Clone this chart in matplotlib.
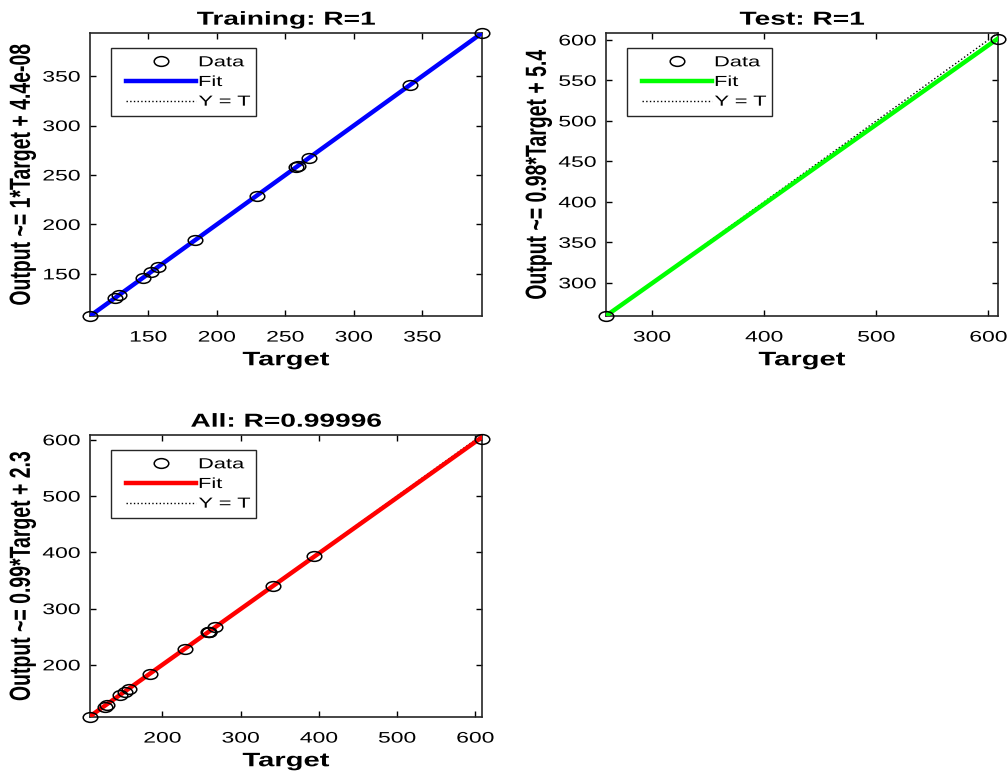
import matplotlib
matplotlib.use("Agg")
import matplotlib.pyplot as plt
import numpy as np
from matplotlib.patheffects import AbstractPathEffect
from matplotlib.transforms import Affine2D
from matplotlib.path import Path
from matplotlib.legend_handler import HandlerLine2D

plt.rcParams['font.family'] = ['Liberation Sans', 'DejaVu Sans']

# Training set: targets and network outputs
train_target = [107.4, 126.0, 128.6, 146.0, 152.0, 157.0, 184.0, 229.0, 258.0, 259.0, 267.0, 341.0, 393.6]
train_output = [107.4, 126.0, 128.6, 146.0, 152.0, 157.0, 184.0, 229.0, 258.0, 259.0, 267.0, 341.0, 393.6]
train_fit = (1.0, 4.4e-08)

# Test set
test_target = [259.0, 608.5]
test_output = [259.2, 601.7]
test_fit = (0.98, 5.4)

# All samples
all_target = train_target + test_target
all_output = train_output + test_output
all_fit = (0.99, 2.3)

panels = [
    ("Training: R=1", train_target, train_output, train_fit, "Output ~= 1*Target + 4.4e-08",
     (0, 0, 1), [150, 200, 250, 300, 350], [150, 200, 250, 300, 350]),
    ("Test: R=1", test_target, test_output, test_fit, "Output ~= 0.98*Target + 5.4",
     (0, 1, 0), [300, 400, 500, 600], [300, 350, 400, 450, 500, 550, 600]),
    ("All: R=0.99996", all_target, all_output, all_fit, "Output ~= 0.99*Target + 2.3",
     (1, 0, 0), [200, 300, 400, 500, 600], [200, 300, 400, 500, 600]),
]

SX = 1.5  # horizontal widening of glyphs


class Widen(AbstractPathEffect):
    """Draw text glyphs widened horizontally about a screen anchor."""

    def __init__(self, sx, anchor='center'):
        super().__init__()
        self.sx = sx
        self.anchor = anchor

    def draw_path(self, renderer, gc, tpath, affine, rgbFace=None):
        ext = tpath.get_extents(affine)
        if self.anchor == 'left':
            ax0 = ext.x0
        elif self.anchor == 'right':
            ax0 = ext.x1
        else:
            ax0 = 0.5 * (ext.x0 + ext.x1)
        tr = affine + Affine2D().translate(-ax0, 0).scale(self.sx, 1).translate(ax0, 0)
        renderer.draw_path(gc, tpath, tr, rgbFace)


# open ellipse marker (wider than tall)
_c = Path.unit_circle()
ellipse = Path(Affine2D().scale(1.0, 1.0 / SX).transform(_c.vertices), _c.codes)

W, H = 1007, 774
fig = plt.figure(figsize=(W / 100, H / 100), dpi=100)

# axes boxes in pixels: left, top, right, bottom
boxes = [(90, 33, 482, 316), (606, 33, 998, 316), (90, 435, 482, 717)]

for (title, t, y, fit, ylab, col, xt, yt), (l, tp, r, b) in zip(panels, boxes):
    aw, ah = r - l, b - tp
    ax = fig.add_axes([l / W, (H - b) / H, aw / W, ah / H])
    lo = min(min(t), min(y))
    hi = max(max(t), max(y))
    xs = np.array([lo, hi])
    ax.plot(xs, xs, linestyle=':', color='k', linewidth=1.0, label='Y = T', zorder=2)
    ax.plot(xs, fit[0] * xs + fit[1], color=col, linewidth=3.2, label='Fit', zorder=3)
    ax.plot(t, y, linestyle='none', marker=ellipse, markersize=10.5, markerfacecolor='none',
            markeredgecolor='k', markeredgewidth=1.1, label='Data', zorder=4, clip_on=False)
    ax.set_xlim(lo, hi)
    ax.set_ylim(lo, hi)
    ax.set_xticks(xt)
    ax.set_yticks(yt)
    ax.tick_params(direction='in', top=True, right=True, length=4, width=1,
                   labelsize=11, colors='k')
    ax.tick_params(axis='x', pad=10.5)
    ax.tick_params(axis='y', pad=7)
    for s in ax.spines.values():
        s.set_linewidth(1.2)
        s.set_color('#262626')

    ttl = ax.set_title(title, fontsize=13.5, fontweight='bold', pad=6)
    ttl.set_path_effects([Widen(SX, 'center')])
    xl = ax.set_xlabel('Target', fontsize=14, fontweight='bold', labelpad=5.5)
    xl.set_path_effects([Widen(SX, 'center')])
    yl = ax.set_ylabel(ylab, fontsize=14, fontweight='bold')
    yl.set_path_effects([Widen(SX, 'center')])
    ax.yaxis.set_label_coords(-67 / aw, 0.5)
    yl.set_verticalalignment('center')
    for lab in ax.get_xticklabels():
        lab.set_path_effects([Widen(SX, 'center')])
    for lab in ax.get_yticklabels():
        lab.set_path_effects([Widen(SX, 'right')])

    handles, labels = ax.get_legend_handles_labels()
    order = [2, 1, 0]
    fs = 10.5
    fs_px = fs * 100 / 72
    x0 = 21 / aw
    x1 = 166 / aw
    ytop = 1 - 15 / ah
    hx = HandlerLine2D(xpad=7.4 / fs_px)
    leg = ax.legend([handles[i] for i in order], [labels[i] for i in order],
                    loc='upper left', bbox_to_anchor=(x0, ytop - 0.3, x1 - x0, 0.3),
                    mode='expand', borderaxespad=0, fontsize=fs,
                    frameon=True, fancybox=False, edgecolor='#262626', framealpha=1,
                    handlelength=(70 + 7.4) / fs_px, borderpad=0.5, labelspacing=0.39,
                    handletextpad=0.2, numpoints=1,
                    handler_map={h: hx for h in handles})
    leg.get_frame().set_linewidth(1.0)
    for txt in leg.get_texts():
        txt.set_path_effects([Widen(SX, 'left')])

fig.savefig('out.png', dpi=100)
